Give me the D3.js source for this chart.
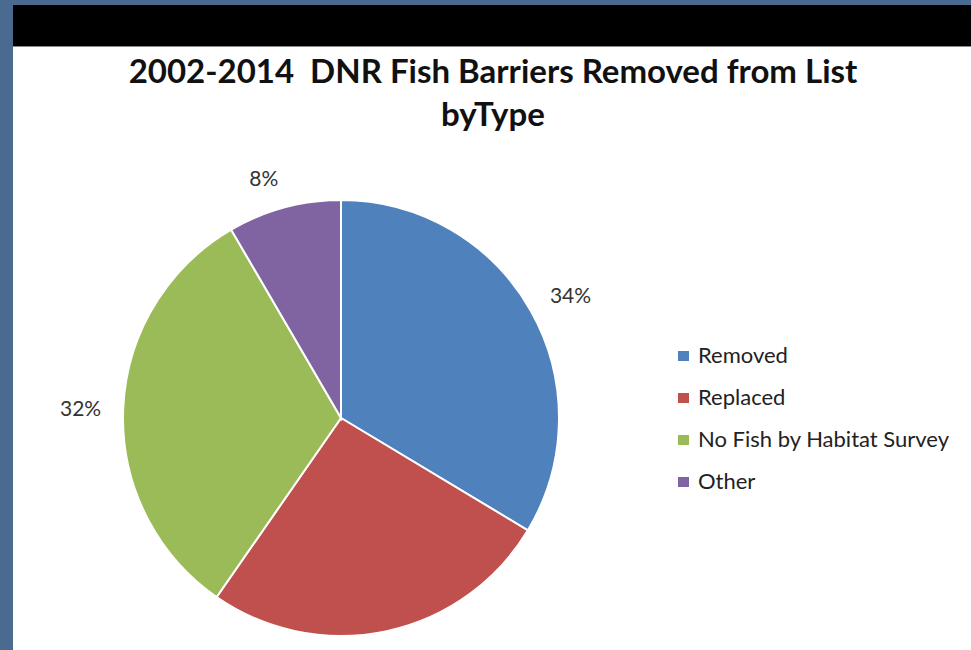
<!DOCTYPE html>
<html lang="en">
<head>
  <meta charset="UTF-8">
  <title>DNR Fish Barriers</title>
  <style>
    body { margin: 0; background: #4a6b8f; }
    svg { display: block; }
    .title { font: bold 33px Lato, sans-serif; fill: #111; white-space: pre; }
    .pct { font: 21px Lato, sans-serif; fill: #333; }
    .legend text { font: 22px Lato, sans-serif; fill: #222; }
  </style>
</head>
<body>
  <div id="chart"></div>
  <script src="https://d3js.org/d3.v7.min.js"></script>
  <script>
    const categories = ['Removed', 'Replaced', 'No Fish by Habitat Survey', 'Other'];
    const counts = [40, 31, 38, 10];
    const colors = ['#4f81bd', '#c0504d', '#9bbb59', '#8064a2'];
    const showLabel = [true, false, true, true];

    const width = 971, height = 650;
    const svg = d3.select('#chart').append('svg')
      .attr('width', width).attr('height', height);

    // frame: blue border, black band, white plot
    svg.append('rect').attr('width', width).attr('height', height).attr('fill', '#4a6b8f');
    svg.append('rect').attr('x', 13).attr('y', 5).attr('width', width - 13).attr('height', 41).attr('fill', '#000');
    svg.append('rect').attr('x', 13).attr('y', 46).attr('width', width - 13).attr('height', 1).attr('fill', '#888');
    svg.append('rect').attr('x', 13).attr('y', 47).attr('width', width - 13).attr('height', height - 47).attr('fill', '#fff');

    svg.append('text').attr('class', 'title').attr('x', 493).attr('y', 83)
      .attr('text-anchor', 'middle').text('2002-2014  DNR Fish Barriers Removed from List');
    svg.append('text').attr('class', 'title').attr('x', 493).attr('y', 126)
      .attr('text-anchor', 'middle').text('byType');

    const cx = 341, cy = 418, r = 218;
    const total = d3.sum(counts);
    const data = categories.map((c, i) => ({ name: c, value: counts[i], color: colors[i], show: showLabel[i] }));

    const pie = d3.pie().sort(null).value(d => d.value);
    const arc = d3.arc().innerRadius(0).outerRadius(r);
    const labelArc = d3.arc().innerRadius(r + 22).outerRadius(r + 22);

    const g = svg.append('g').attr('transform', `translate(${cx},${cy})`);
    const arcs = pie(data);

    g.selectAll('path').data(arcs).enter().append('path')
      .attr('d', arc)
      .attr('fill', d => d.data.color)
      .attr('stroke', '#fff')
      .attr('stroke-width', 2);

    const mid = d => (d.startAngle + d.endAngle) / 2;
    g.selectAll('.pct').data(arcs.filter(d => d.data.show)).enter().append('text')
      .attr('class', 'pct')
      .attr('transform', d => {
        const [x, y] = labelArc.centroid(d);
        return `translate(${x},${y - Math.cos(mid(d)) * 8})`;
      })
      .attr('text-anchor', d => Math.sin(mid(d)) >= 0 ? 'start' : 'end')
      .attr('dy', '0.35em')
      .text(d => Math.round(d.data.value / total * 100) + '%');

    // legend
    const legend = svg.append('g').attr('class', 'legend').attr('transform', 'translate(678,356)');
    const rows = legend.selectAll('g').data(data).enter().append('g')
      .attr('transform', (d, i) => `translate(0,${i * 42})`);
    rows.append('rect').attr('x', 0).attr('y', -5).attr('width', 11).attr('height', 10).attr('fill', d => d.color);
    rows.append('text').attr('x', 20).attr('dy', '0.33em').text(d => d.name);
  </script>
</body>
</html>
